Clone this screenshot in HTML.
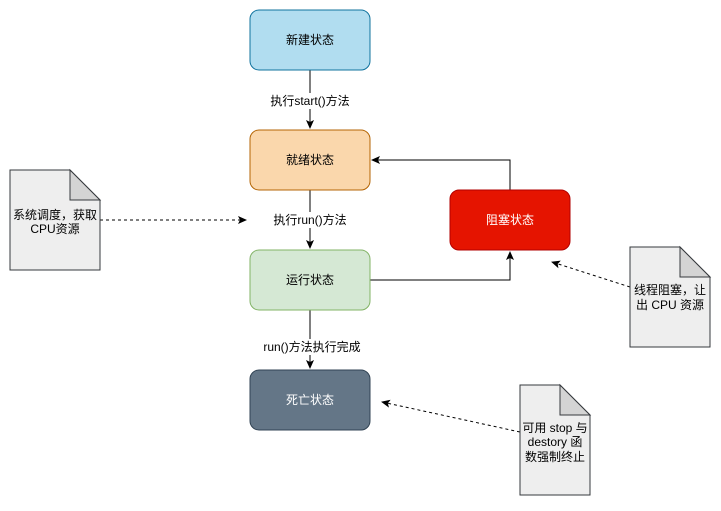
<!DOCTYPE html>
<html><head><meta charset="utf-8"><style>
body{margin:0;background:#fff}
svg text{font-family:"Liberation Sans","Noto Sans CJK SC",sans-serif;font-size:12px}
</style></head><body>
<svg width="721" height="506" xmlns="http://www.w3.org/2000/svg">
<defs>
<marker id="a" markerWidth="10" markerHeight="10" refX="8" refY="5" orient="auto" markerUnits="userSpaceOnUse">
<path d="M0,1 L9,5 L0,9 L2,5 Z" fill="#000"/></marker>
</defs>
<!-- edges -->
<g stroke="#000" fill="none">
<line x1="310" y1="70" x2="310" y2="128" marker-end="url(#a)"/>
<line x1="310" y1="190" x2="310" y2="248" marker-end="url(#a)"/>
<line x1="310" y1="310" x2="310" y2="368" marker-end="url(#a)"/>
<polyline points="370,280 510,280 510,252" marker-end="url(#a)"/>
<polyline points="510,190 510,160 372,160" marker-end="url(#a)"/>
<g stroke-dasharray="3,3">
<line x1="100" y1="220" x2="246" y2="220" marker-end="url(#a)"/>
<line x1="630" y1="287" x2="552" y2="262" marker-end="url(#a)"/>
<line x1="520" y1="432" x2="382" y2="402" marker-end="url(#a)"/>
</g></g>
<!-- edge labels -->
<rect x="262" y="93" width="96" height="16" fill="#fff"/>
<text x="310" y="105" text-anchor="middle">执行start()方法</text>
<rect x="265" y="212" width="90" height="16" fill="#fff"/>
<text x="310" y="224" text-anchor="middle">执行run()方法</text>
<rect x="268" y="339" width="84" height="16" fill="#fff"/>
<text x="312" y="351" text-anchor="middle">run()方法执行完成</text>
<!-- boxes -->
<rect x="250" y="10" width="120" height="60" rx="9" fill="#b1ddf0" stroke="#10739e"/>
<text x="310" y="44" text-anchor="middle">新建状态</text>
<rect x="250" y="130" width="120" height="60" rx="9" fill="#fad7ac" stroke="#b46504"/>
<text x="310" y="164" text-anchor="middle">就绪状态</text>
<rect x="250" y="250" width="120" height="60" rx="9" fill="#d5e8d4" stroke="#82b366"/>
<text x="310" y="284" text-anchor="middle">运行状态</text>
<rect x="250" y="370" width="120" height="60" rx="9" fill="#647687" stroke="#314354"/>
<text x="310" y="404" text-anchor="middle" fill="#fff">死亡状态</text>
<rect x="450" y="190" width="120" height="60" rx="9" fill="#e51400" stroke="#b20000"/>
<text x="510" y="224" text-anchor="middle" fill="#fff">阻塞状态</text>
<!-- notes -->
<g stroke="#36393d">
<path d="M10,170 H70 L100,200 V270 H10 Z" fill="#eeeeee"/>
<path d="M70,170 V200 H100 Z" fill="#d4d4d4"/>
<path d="M630,247 H680 L710,277 V347 H630 Z" fill="#eeeeee"/>
<path d="M680,247 V277 H710 Z" fill="#d4d4d4"/>
<path d="M520,385 H560 L590,415 V495 H520 Z" fill="#eeeeee"/>
<path d="M560,385 V415 H590 Z" fill="#d4d4d4"/>
</g>
<text x="55" y="219" text-anchor="middle">系统调度，获取</text>
<text x="55" y="233" text-anchor="middle">CPU资源</text>
<text x="670" y="294" text-anchor="middle">线程阻塞，让</text>
<text x="670" y="309" text-anchor="middle">出 CPU 资源</text>
<text x="555" y="432" text-anchor="middle">可用 stop 与</text>
<text x="555" y="446" text-anchor="middle">destory 函</text>
<text x="555" y="461" text-anchor="middle">数强制终止</text>
</svg>
</body></html>
